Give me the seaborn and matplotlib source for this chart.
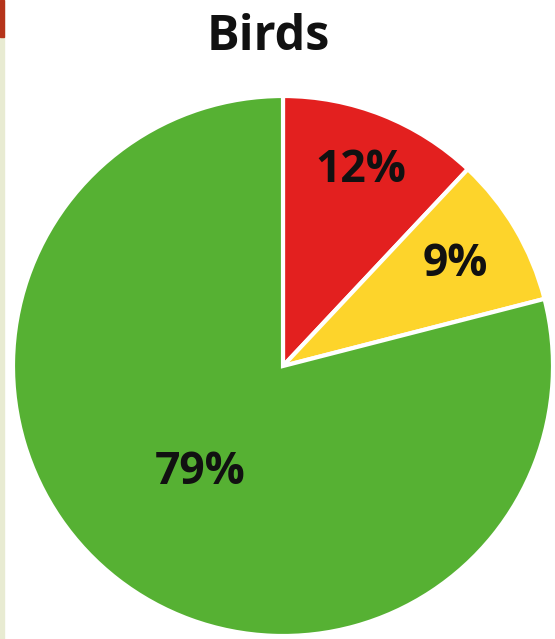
import matplotlib
matplotlib.use("Agg")
import matplotlib.pyplot as plt
import seaborn as sns
import numpy as np

sns.set_theme(style="white")
plt.rcParams['font.family'] = ['Open Sans', 'DejaVu Sans']

title = "Birds"
categories = ["Red", "Yellow", "Green"]
values = [12, 9, 79]
colors = ["#e3201f", "#fdd42b", "#56b133"]
label_dist = [0.78, 0.74, 0.50]

W, H = 555, 639
fig = plt.figure(figsize=(W / 100, H / 100), dpi=100)
fig.patch.set_facecolor("white")
ax = fig.add_axes([0, 0, 1, 1])

cx, cy, r = 283, H - 366, 270
wedges, texts = ax.pie(values, colors=colors, startangle=90, counterclock=False,
                       center=(cx, cy), radius=r, frame=True,
                       wedgeprops=dict(edgecolor="white", linewidth=3))
ax.set_xlim(0, W)
ax.set_ylim(0, H)
ax.set_aspect("equal")
ax.axis("off")

for w, v, d in zip(wedges, values, label_dist):
    ang = np.deg2rad((w.theta1 + w.theta2) / 2)
    ax.text(cx + d * r * np.cos(ang), cy + d * r * np.sin(ang), f"{v}%",
            ha="center", va="center", fontsize=32, fontweight="bold", color="#111111")

fig.text(268 / W, 1 - 37 / H, title, ha="center", va="center",
         fontsize=35, fontweight="bold", color="#111111")

# thin strip at left edge
fig.add_artist(plt.Rectangle((0, 0), 4 / W, 1, transform=fig.transFigure,
                             color="#e8ebd2", zorder=5))
fig.add_artist(plt.Rectangle((0, 1 - 37 / H), 4 / W, 37 / H, transform=fig.transFigure,
                             color="#b5341a", zorder=6))

fig.savefig("out.png", dpi=100)
